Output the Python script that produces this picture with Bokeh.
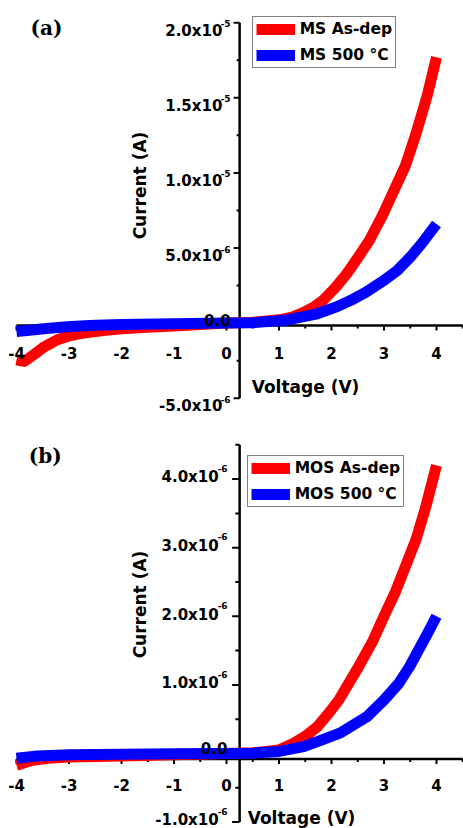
import numpy as np
from bokeh.plotting import figure
from bokeh.models import Range1d, Legend, LegendItem, Label
from bokeh.layouts import column
from bokeh.embed import file_html
from bokeh.resources import INLINE
from bokeh.core.properties import value

# ---------------- data ----------------
# panel (a): MS devices, voltage (V) and current (A)
v_ms_asdep = [-4.0, -3.85, -3.65, -3.48, -3.22, -2.97, -2.65, -2.3, -2.0, -1.5, -1.0, -0.5,
              0.0, 0.5, 1.0, 1.25, 1.45, 1.66, 1.85, 2.08, 2.29, 2.51, 2.72, 2.97, 3.19, 3.41,
              3.60, 3.82, 4.0]
i_ms_asdep = [-2.45e-6, -2.55e-6, -2.05e-6, -1.60e-6, -1.11e-6, -0.83e-6, -0.62e-6, -0.48e-6,
              -0.38e-6, -0.28e-6, -0.20e-6, -0.10e-6, 0.0, 0.05e-6, 0.22e-6, 0.40e-6,
              0.68e-6, 1.06e-6, 1.55e-6, 2.39e-6, 3.28e-6, 4.39e-6, 5.50e-6, 7.16e-6, 8.83e-6,
              10.5e-6, 12.5e-6, 15.1e-6, 17.7e-6]
v_ms_500 = [-4.0, -3.75, -3.48, -3.2, -2.97, -2.5, -2.0, -1.0, 0.0, 0.5, 1.09, 1.73, 2.08,
            2.36, 2.65, 3.0, 3.25, 3.5, 3.73, 4.0]
i_ms_500 = [-0.56e-6, -0.47e-6, -0.38e-6, -0.30e-6, -0.23e-6, -0.14e-6, -0.09e-6, -0.05e-6,
            0.0, 0.03e-6, 0.17e-6, 0.62e-6, 1.06e-6, 1.50e-6, 2.05e-6, 2.84e-6, 3.50e-6,
            4.39e-6, 5.35e-6, 6.6e-6]

# panel (b): MOS devices
v_mos_asdep = [-4.0, -3.7, -3.4, -3.0, -2.0, -1.0, 0.0, 0.5, 1.0, 1.28, 1.50, 1.73, 1.95,
               2.14, 2.52, 2.78, 3.0, 3.22, 3.41, 3.61, 3.79, 4.0]
i_mos_asdep = [-0.17e-6, -0.10e-6, -0.07e-6, -0.05e-6, -0.035e-6, -0.02e-6, 0.0, 0.01e-6,
               0.05e-6, 0.15e-6, 0.25e-6, 0.39e-6, 0.59e-6, 0.78e-6, 1.27e-6, 1.63e-6,
               2.0e-6, 2.36e-6, 2.73e-6, 3.12e-6, 3.58e-6, 4.2e-6]
v_mos_500 = [-4.0, -3.6, -3.0, -2.0, -1.0, 0.0, 0.5, 1.0, 1.47, 1.82, 2.17, 2.68, 3.0,
             3.28, 3.49, 3.66, 3.83, 4.0]
i_mos_500 = [-0.07e-6, -0.035e-6, -0.02e-6, -0.01e-6, -0.005e-6, 0.0, 0.005e-6, 0.03e-6,
             0.10e-6, 0.20e-6, 0.30e-6, 0.54e-6, 0.78e-6, 1.02e-6, 1.27e-6, 1.51e-6,
             1.75e-6, 2.0e-6]

names_a = ["MS As-dep", "MS 500 \u00b0C"]
names_b = ["MOS As-dep", "MOS 500 \u00b0C"]

# ticks
x_major = [-4, -3, -2, -1, 0, 1, 2, 3, 4]
x_labels = ["-4", "-3", "-2", "-1", "0", "1", "2", "3", "4"]
x_minor = [-3.5, -2.5, -1.5, -0.5, 0.5, 1.5, 2.5, 3.5, 4.5]

ya_major = [-5e-6, 5e-6, 1e-5, 1.5e-5, 2e-5]
ya_mant = ["-5.0x10", "5.0x10", "1.0x10", "1.5x10", "2.0x10"]
ya_exp = ["-6", "-6", "-5", "-5", "-5"]
ya_minor = [-2.5e-6, 2.5e-6, 7.5e-6, 1.25e-5, 1.75e-5]
ya_lim = [-5e-6, 2e-5]

yb_major = [-1e-6, 1e-6, 2e-6, 3e-6, 4e-6]
yb_mant = ["-1.0x10", "1.0x10", "2.0x10", "3.0x10", "4.0x10"]
yb_exp = ["-6", "-6", "-6", "-6", "-6"]
yb_minor = [-0.5e-6, 0.5e-6, 1.5e-6, 2.5e-6, 3.5e-6, 4.5e-6]
yb_lim = [-1e-6, 4.5e-6]

zero_label = "0.0"
RED = "#ff0000"
BLUE = "#0000ff"

# ---------------- geometry ----------------
FONT = "DejaVu Sans"
SERIF = "DejaVu Serif"
W = 463
XPX = 52.5
X_START = -4 - 16 / XPX
X_END = X_START + W / XPX


def build(h, y0, y1, axis_x, xaxis_y, curves, names, leg_xy, y_major, y_mant, y_exp,
          y_minor, y_lim, st, tag, tag_xy, ytitle_xy, xtitle_xy):
    p = figure(width=W, height=h, x_range=Range1d(X_START, X_END), y_range=Range1d(y0, y1),
               output_backend="svg", toolbar_location=None, x_axis_type=None,
               y_axis_type=None, min_border=0, outline_line_color=None)
    p.background_fill_color = "white"
    p.border_fill_color = "white"

    # axes lines
    p.segment(x0=[x_major[0]], y0=[xaxis_y], x1=[x_minor[-1]], y1=[xaxis_y],
              line_color="black", line_width=2.5)
    p.segment(x0=[axis_x], y0=[y_lim[0]], x1=[axis_x], y1=[y_lim[1]],
              line_color="black", line_width=2.5)
    # x ticks
    p.ray(x=x_major, y=[xaxis_y] * len(x_major), length=5, length_units="screen",
          angle=-np.pi / 2, line_color="black", line_width=2)
    p.ray(x=x_minor, y=[xaxis_y] * len(x_minor), length=3, length_units="screen",
          angle=-np.pi / 2, line_color="black", line_width=2)
    # y ticks
    ymaj_all = y_major + [0.0]
    p.ray(x=[axis_x] * len(ymaj_all), y=ymaj_all, length=st["ymaj"], length_units="screen",
          angle=np.pi, line_color="black", line_width=2)
    p.ray(x=[axis_x] * len(y_minor), y=y_minor, length=st["ymin"], length_units="screen",
          angle=np.pi, line_color="black", line_width=2)

    # curves
    rends = []
    for vx, iy, col in curves:
        r = p.line(vx, iy, line_color=col, line_width=11, line_join="round")
        rends.append(r)

    # x tick labels
    p.text(x=x_major, y=[xaxis_y] * len(x_major), text=x_labels, text_align="center",
           text_baseline="alphabetic", y_offset=st["xl"], text_font=value(FONT),
           text_font_style="bold", text_font_size=value("15px"), text_color="black")
    # y tick labels: mantissa + superscript exponent
    p.text(x=[axis_x] * len(y_major), y=y_major, text=y_mant, text_align="right",
           text_baseline="alphabetic", x_offset=st["main_dx"], y_offset=st["main_dy"],
           text_font=value(FONT), text_font_style="bold", text_font_size=value("15px"),
           text_color="black")
    p.text(x=[axis_x] * len(y_major), y=y_major, text=y_exp, text_align="right",
           text_baseline="alphabetic", x_offset=st["sup_dx"], y_offset=st["sup_dy"],
           text_font=value(FONT), text_font_style="bold", text_font_size=value("9px"),
           text_color="black")
    p.text(x=[axis_x], y=[0.0], text=[zero_label], text_align="right",
           text_baseline="alphabetic", x_offset=st["zero_dx"], y_offset=st["zero_dy"],
           text_font=value(FONT), text_font_style="bold", text_font_size=value("15px"),
           text_color="black")

    # axis titles and panel tag
    p.add_layout(Label(x=ytitle_xy[0], y=ytitle_xy[1], x_units="screen", y_units="screen",
                       text="Current (A)", angle=90, angle_units="deg", text_align="center",
                       text_baseline="middle", text_font=FONT, text_font_style="bold",
                       text_font_size="17px", text_color="black"))
    p.add_layout(Label(x=xtitle_xy[0], y=xtitle_xy[1], x_units="screen", y_units="screen",
                       text="Voltage (V)", text_align="center", text_baseline="alphabetic",
                       text_font=FONT, text_font_style="bold", text_font_size="17px",
                       text_color="black"))
    p.add_layout(Label(x=tag_xy[0], y=tag_xy[1], x_units="screen", y_units="screen",
                       text=tag, text_align="left", text_baseline="middle",
                       text_font=SERIF, text_font_style="bold", text_font_size="20px",
                       text_color="black"))

    leg = Legend(items=[LegendItem(label=names[0], renderers=[rends[0]]),
                        LegendItem(label=names[1], renderers=[rends[1]])],
                 location=leg_xy, orientation="vertical", margin=0, padding=3, spacing=8,
                 glyph_width=39, glyph_height=18, label_height=18, label_standoff=5,
                 label_text_font=FONT, label_text_font_style="bold",
                 label_text_font_size="15.5px", label_text_color="black",
                 border_line_color="black", border_line_width=1.5,
                 background_fill_color="white", background_fill_alpha=1.0)
    p.add_layout(leg)
    return p


# panel (a): 15.02 px per uA, zero at 322.6 px from the top
HA = 414
ya_top = 322.6 / 15.02 * 1e-6
ya_bot = ya_top - HA / 15.02 * 1e-6
pa = build(HA, ya_bot, ya_top, 0.25, -0.16e-6,
           [(v_ms_asdep, i_ms_asdep, RED), (v_ms_500, i_ms_500, BLUE)], names_a,
           (251.7, 346.2), ya_major, ya_mant, ya_exp, ya_minor, ya_lim,
           dict(ymaj=6, ymin=3, xl=27.7, main_dx=-17.3, main_dy=8, sup_dx=-9, sup_dy=1,
                zero_dx=-9, zero_dy=-2.7),
           "(a)", (30, 386.2), (139, 229), (305, 28))

# panel (b): 68.6 px per uA, zero at 339 px from the panel top
HB = 414
yb_top = 339 / 68.6 * 1e-6
yb_bot = yb_top - HB / 68.6 * 1e-6
pb = build(HB, yb_bot, yb_top, 0.25, -0.08e-6,
           [(v_mos_asdep, i_mos_asdep, RED), (v_mos_500, i_mos_500, BLUE)], names_b,
           (246.7, 321), yb_major, yb_mant, yb_exp, yb_minor, yb_lim,
           dict(ymaj=7.5, ymin=4.3, xl=25.8, main_dx=-21, main_dy=-1.8, sup_dx=-12,
                sup_dy=-10.8, zero_dx=-12.3, zero_dy=-5.3),
           "(b)", (28.3, 372.7), (139, 224), (301, 10.3))

layout = column(pa, pb, spacing=0)
open("out.html", "w").write(file_html(layout, INLINE))
